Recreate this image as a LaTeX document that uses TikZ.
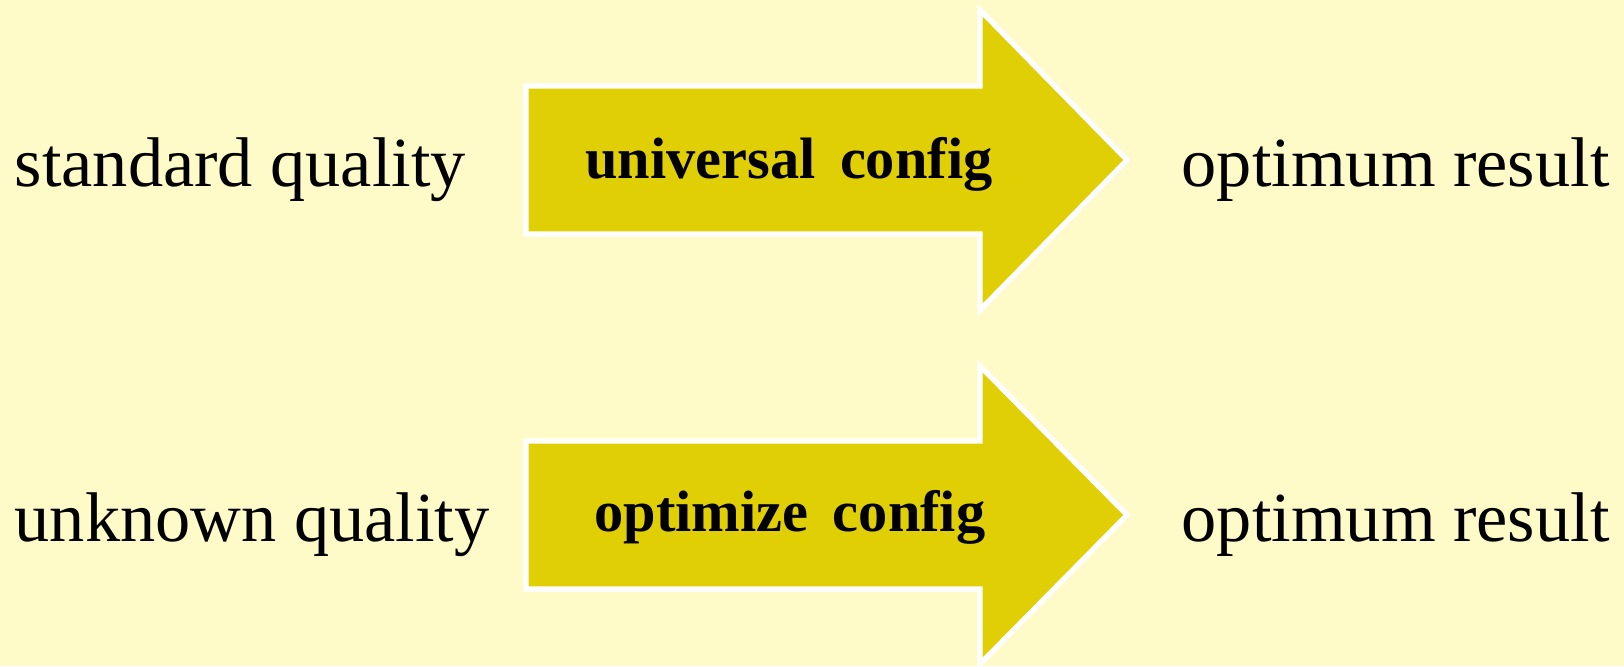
\documentclass[tikz,border=0pt]{standalone}
\usepackage{fontspec}
\setmainfont{Liberation Serif}
\usetikzlibrary{positioning}

\definecolor{paper}{RGB}{255,251,200}
\definecolor{arrowfill}{RGB}{224,207,5}

\tikzset{
    side text/.style={font=\fontsize{20}{24}\selectfont, inner sep=0pt},
    arrow text/.style={font=\fontsize{16.6}{20}\selectfont\bfseries, inner sep=0pt},
    fat arrow/.style={fill=arrowfill, draw=white, line width=1.5pt, line join=miter}
}

\begin{document}
\begin{tikzpicture}[x=0.01cm,y=-0.01cm]

% Background
\fill[paper] (0,0) rectangle (1624,666);
\useasboundingbox (0,0) rectangle (1624,666);

% Upper arrow
\draw[fat arrow] (526,86) -- (980,86) -- (980,10) -- (1127,160)
    -- (980,310) -- (980,234) -- (526,234) -- cycle;
\node[arrow text, anchor=base] (universal) at (789,178) {universal\, config};

% Lower arrow
\draw[fat arrow] (526,441) -- (980,441) -- (980,366) -- (1127,515)
    -- (980,664) -- (980,589) -- (526,589) -- cycle;
\node[arrow text, anchor=base] (optimize) at (790,531) {optimize\, config};

% Inputs
\node[side text, anchor=base west] (standard) at (14,186) {standard quality};
\node[side text, anchor=base west] (unknown) at (14,541) {unknown quality};

% Results
\node[side text, anchor=base west] (resultA) at (1181,186) {optimum result};
\node[side text, anchor=base west] (resultB) at (1181,541) {optimum result};

\end{tikzpicture}
\end{document}
